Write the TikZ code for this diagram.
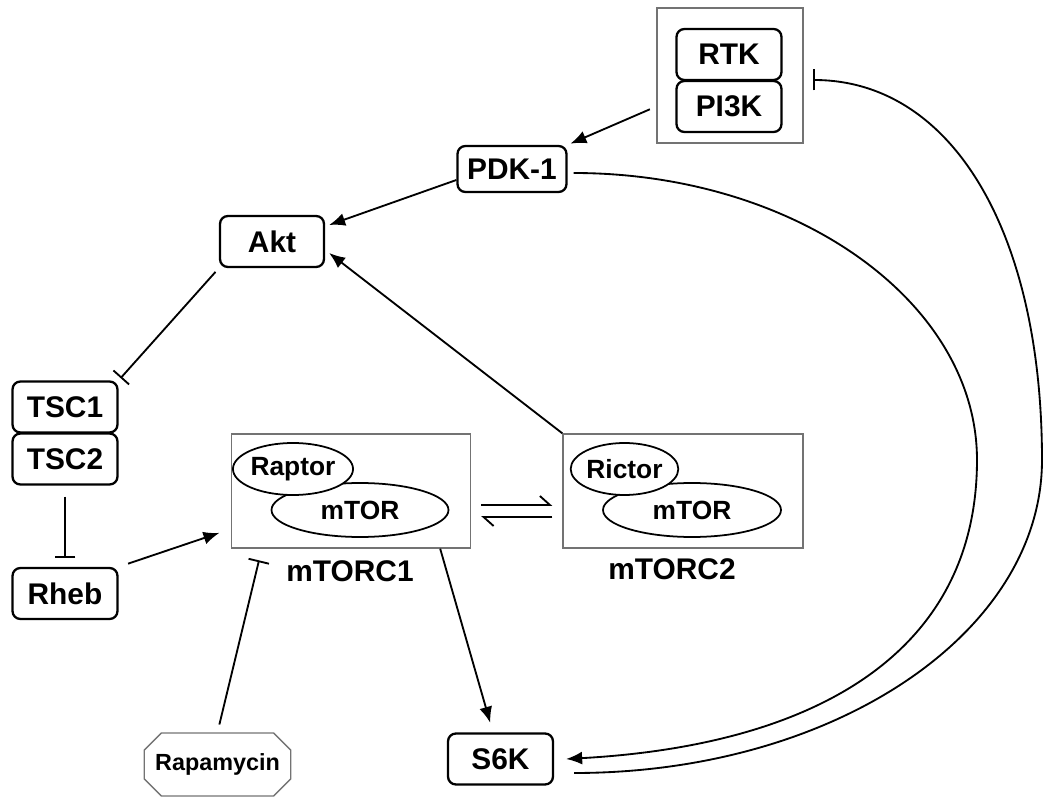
\documentclass[tikz,border=0pt]{standalone}
\usepackage{fontspec}
\setmainfont{Liberation Sans}
\usetikzlibrary{arrows.meta,positioning,shapes.geometric,shapes.misc}

\begin{document}
\begin{tikzpicture}[x=0.02cm,y=-0.02cm,
  prot/.style={draw,line width=1.3pt,rounded corners=4.5pt,minimum width=2.1cm,
    minimum height=1.02cm,inner sep=0pt,font=\fontsize{17}{20}\selectfont\bfseries},
  cplx/.style={draw=black!55,line width=0.8pt,minimum width=4.78cm,minimum height=2.28cm},
  sub/.style={draw,ellipse,line width=1pt,fill=white,inner sep=0pt,
    font=\fontsize{15}{18}\selectfont\bfseries},
  lbl/.style={font=\fontsize{17}{20}\selectfont\bfseries},
  act/.style={-{Latex[length=0.32cm,width=0.26cm]},line width=1.05pt},
  inh/.style={-{Bar[width=0.42cm]},line width=1.05pt},
  eq/.style={-{Straight Barb[left,length=0.2cm,width=0.36cm]},line width=1.05pt}
]
  \useasboundingbox (0,0) rectangle (1046,797);

  % receptor complex
  \node[cplx,minimum width=2.92cm,minimum height=2.7cm] (rtkbox) at (730,75.5) {};
  \node[prot] (rtk) at (729,54.5) {RTK};
  \node[prot] (pi3k) at (729,106.5) {PI3K};

  \node[prot,minimum width=2.18cm,minimum height=0.92cm] (pdk) at (512,169) {PDK-1};
  \node[prot,minimum width=2.08cm] (akt) at (272,241.5) {Akt};
  \node[prot] (tsc1) at (65,407) {TSC1};
  \node[prot] (tsc2) at (65,459) {TSC2};
  \node[prot] (rheb) at (65,593.5) {Rheb};
  \node[prot] (s6k) at (500.5,759) {S6K};
  \node[draw=black!55,line width=0.8pt,chamfered rectangle,chamfered rectangle xsep=0.28cm,
    minimum width=2.78cm,minimum height=1.26cm,inner sep=0pt,
    font=\fontsize{13.3}{16}\selectfont\bfseries] (rapa) at (217.5,764.5) {Rapamycin};

  % mTOR complexes
  \node[cplx] (c1box) at (351,491) {};
  \node[sub,minimum width=3.54cm,minimum height=1.08cm] (mtor1) at (360,510) {mTOR};
  \node[sub,minimum width=2.08cm,minimum height=1.04cm] (raptor) at (293,469) {Raptor};
  \node[lbl] (c1lbl) at (350,571) {mTORC1};

  \node[cplx,minimum width=4.8cm] (c2box) at (683,491) {};
  \node[sub,minimum width=3.56cm,minimum height=1.08cm] (mtor2) at (692,510) {mTOR};
  \node[sub,minimum width=2.1cm,minimum height=1.04cm] (rictor) at (624.5,469) {Rictor};
  \node[lbl] (c2lbl) at (672,569) {mTORC2};

  % connections
  \draw[act,shorten <=0.14cm,shorten >=0.06cm] (rtkbox.west |- pi3k) -- (pdk.north east);
  \draw[act] ([yshift=-0.22cm]pdk.west) -- ([xshift=0.08cm,yshift=0.33cm]akt.east);
  \draw[act] (c2box.north west) -- ([xshift=0.08cm,yshift=-0.23cm]akt.east);
  \draw[inh,shorten <=0.1cm,shorten >=0.06cm] (akt.south west) -- (tsc1.north east);
  \draw[inh,shorten <=0.22cm,shorten >=0.18cm] (tsc2) -- (rheb);
  \draw[act,shorten <=0.2cm,shorten >=0.24cm] (rheb.north east) -- ([yshift=-0.76cm]c1box.west);
  \draw[inh,shorten <=0.16cm,shorten >=0.24cm] (rapa.north) -- ([xshift=0.62cm]c1box.south west);
  \draw[act,shorten >=0.2cm] ([xshift=-0.62cm]c1box.south east) -- ([xshift=-0.15cm]s6k.north);
  \draw[eq,shorten <=0.2cm,shorten >=0.2cm] ([yshift=-0.28cm]c1box.east) -- ([yshift=-0.28cm]c2box.west);
  \draw[eq,shorten <=0.2cm,shorten >=0.2cm] ([yshift=-0.52cm]c2box.west) -- ([yshift=-0.52cm]c1box.east);

  % feedback loops
  \draw[act] ([shift={(6,4)}]pdk.east) .. controls (796,173) and (977,302) .. (977,460)
    .. controls (977,650) and (820,745) .. ([xshift=0.24cm]s6k.east);
  \draw[inh] ([shift={(20,14)}]s6k.east) .. controls (834,773) and (1042,633) .. (1042,460)
    .. controls (1042,232) and (952,80) .. ([shift={(9,4.5)}]rtkbox.east);
\end{tikzpicture}
\end{document}
